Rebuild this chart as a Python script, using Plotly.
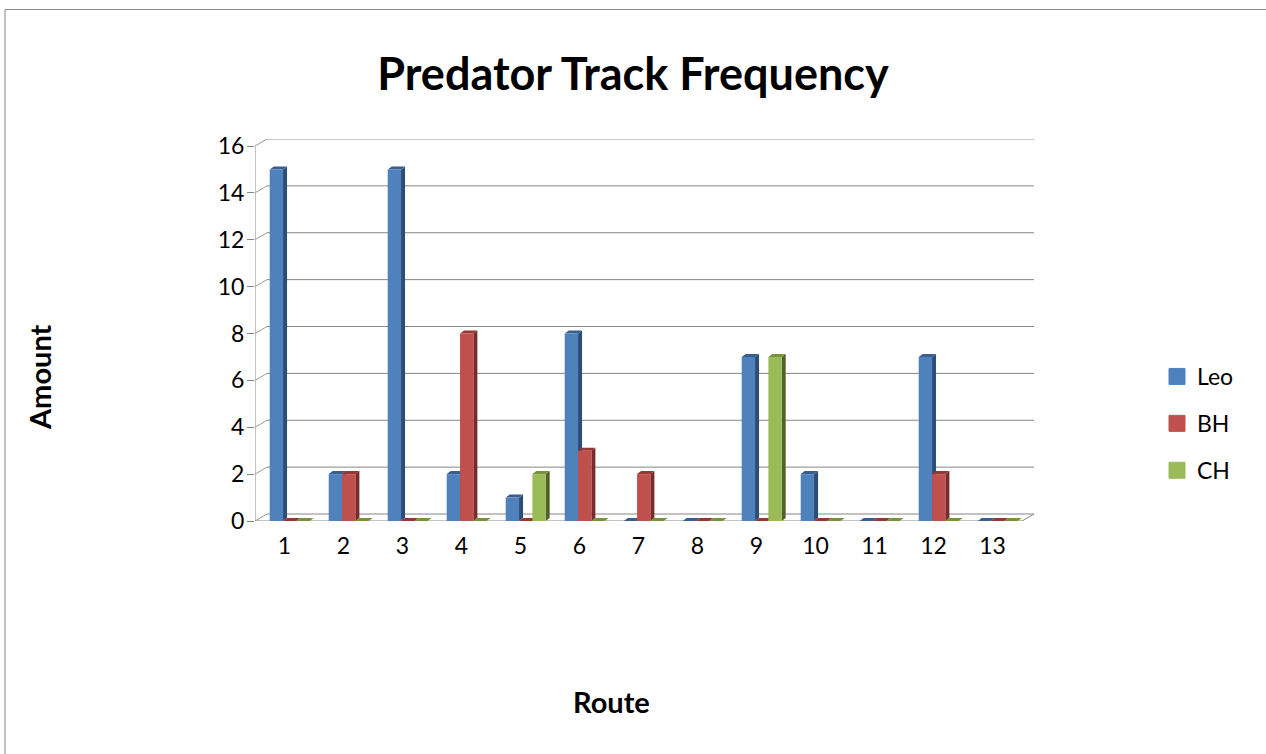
import plotly.graph_objects as go

routes = list(range(1, 14))
leo = [15, 2, 15, 2, 1, 8, 0, 0, 7, 2, 0, 7, 0]
bh = [0, 2, 0, 8, 0, 3, 2, 0, 0, 0, 0, 2, 0]
ch = [0, 0, 0, 0, 2, 0, 0, 0, 7, 0, 0, 0, 0]
y_ticks = [0, 2, 4, 6, 8, 10, 12, 14, 16]

names = ["Leo", "BH", "CH"]
series = [leo, bh, ch]
front_colors = ["#4F81BD", "#C0504D", "#9BBB59"]
side_colors = ["#2C4D75", "#772C2A", "#4F6228"]
top_colors = ["#3A5F8E", "#953735", "#77933C"]

# pixel frame of the front of the plot
WIDTH, HEIGHT = 1266, 754
LEFT, RIGHT, TOP, BOTTOM = 255, 1034, 139, 521
PX_X = 59.0      # one route
PX_Y = 23.44     # one unit of amount

# depth of the chart box and of the bars, in data units
wall_dx, wall_dy = 12 / PX_X, 7 / PX_Y
bar_dx, bar_dy = 4 / PX_X, 3 / PX_Y
bar_w = 13.33 / PX_X
bar_start = 5.2 / PX_X - 1.5 * bar_w

x_min, x_max = 0.5, 13.5
y_max = 16


def paper_x(px):
    return (px - LEFT) / (RIGHT - LEFT)


def paper_y(py):
    return (BOTTOM - py) / (BOTTOM - TOP)


def line(x0, y0, x1, y1, color="#868686", width=1):
    return dict(type="line", layer="below", x0=x0, y0=y0, x1=x1, y1=y1,
                line=dict(color=color, width=width))


def face(points, color):
    path = "M " + " L ".join(f"{x:.4f},{y:.4f}" for x, y in points) + " Z"
    return dict(type="path", layer="below", path=path, fillcolor=color, line=dict(width=0))


shapes = []

# outer chart frame, open on the right and at the bottom
shapes.append(dict(type="path", xref="paper", yref="paper", layer="below",
                   path=f"M {paper_x(5)},{paper_y(754)} L {paper_x(5)},{paper_y(9.5)} L {paper_x(1266)},{paper_y(9.5)}",
                   line=dict(color="#868686", width=1)))

# walls and floor
shapes.append(line(x_min, 0, x_min, y_max, "#B0B0B0", 1.5))
for v in y_ticks:
    shapes.append(line(x_min, v, x_min + wall_dx, v + wall_dy, "#9A9A9A"))
    color, width = ("#B5B5B5", 1.5) if v == y_max else ("#868686", 1)
    shapes.append(line(x_min + wall_dx, v + wall_dy, x_max + wall_dx, v + wall_dy, color, width))
shapes.append(line(x_min, 0, x_max, 0))
shapes.append(line(x_max, 0, x_max + wall_dx, wall_dy))

# side and top of each column, from the same values as the bars
for k, values in enumerate(series):
    offset = bar_start + k * bar_w
    for route, v in zip(routes, values):
        x0 = route + offset
        x1 = x0 + bar_w
        if v > 0:
            shapes.append(face([(x1, 0), (x1 + bar_dx, bar_dy), (x1 + bar_dx, v + bar_dy), (x1, v)],
                               side_colors[k]))
        shapes.append(face([(x0, v), (x0 + bar_dx, v + bar_dy), (x1 + bar_dx, v + bar_dy), (x1, v)],
                           top_colors[k]))

fig = go.Figure()

for k, values in enumerate(series):
    fig.add_trace(go.Bar(x=routes, y=values, width=bar_w, offset=bar_start + k * bar_w,
                         marker=dict(color=front_colors[k], line=dict(width=0)),
                         showlegend=False, hoverinfo="x+y", name=names[k]))

# bar swatches in the legend are too small, so the entries get their own traces
for k, name in enumerate(names):
    fig.add_trace(go.Scatter(x=[None], y=[None], mode="markers", name=name, legendgroup=name,
                             marker=dict(symbol="square", size=16, color=front_colors[k],
                                         line=dict(width=1, color=front_colors[k]))))

fig.update_layout(
    width=WIDTH, height=HEIGHT, autosize=False,
    margin=dict(l=LEFT, r=WIDTH - RIGHT, t=TOP, b=HEIGHT - BOTTOM, pad=0),
    paper_bgcolor="white", plot_bgcolor="white",
    barmode="overlay",
    font=dict(family="Lato", color="black"),
    title=dict(text="<b>Predator Track Frequency</b>", x=633 / WIDTH, xref="container",
               xanchor="center", y=1 - 74 / HEIGHT, yanchor="middle",
               font=dict(size=45, family="Lato", color="black")),
    shapes=shapes,
    legend=dict(x=paper_x(1157), xanchor="left", y=paper_y(355), yanchor="top",
                tracegroupgap=14, font=dict(size=23), itemclick=False, bgcolor="rgba(0,0,0,0)"),
    annotations=[
        dict(text="<b>Route</b>", xref="paper", yref="paper", x=paper_x(611), y=paper_y(701),
             xanchor="center", yanchor="middle", showarrow=False, font=dict(size=29)),
        dict(text="<b>Amount</b>", xref="paper", yref="paper", x=paper_x(39), y=paper_y(377),
             xanchor="center", yanchor="middle", showarrow=False, textangle=-90, font=dict(size=29)),
    ],
)
fig.update_xaxes(range=[x_min, x_max + wall_dx], tickmode="array", tickvals=routes,
                 showgrid=False, zeroline=False, showline=False,
                 ticks="outside", ticklen=4, tickcolor="rgba(0,0,0,0)",
                 tickfont=dict(size=23))
fig.update_yaxes(range=[0, y_max + wall_dy], tickmode="array", tickvals=y_ticks,
                 showgrid=False, zeroline=False, showline=False,
                 ticks="outside", ticklen=7, tickcolor="#868686",
                 ticklabelstandoff=-2, tickfont=dict(size=23))

fig.write_html("out.html", config=dict(displayModeBar=False),
               post_script="document.body.style.margin='0';")
